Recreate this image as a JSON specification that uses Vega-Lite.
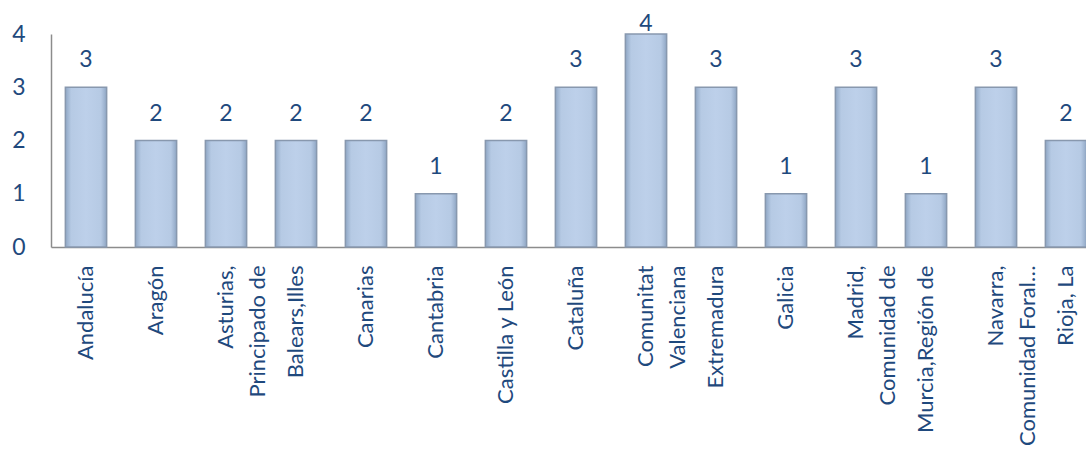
{
  "$schema": "https://vega.github.io/schema/vega-lite/v6.json",
  "autosize": {"type": "none"},
  "padding": {"left": 51, "top": 34, "right": 0, "bottom": 204},
  "width": 1050,
  "height": 213,
  "background": "white",
  "config": {"view": {"stroke": null}, "font": "Lato"},
  "data": {"values": [
    {"region": "Andalucía", "n": 3},
    {"region": "Aragón", "n": 2},
    {"region": "Asturias,|Principado de", "n": 2},
    {"region": "Balears,Illes", "n": 2},
    {"region": "Canarias", "n": 2},
    {"region": "Cantabria", "n": 1},
    {"region": "Castilla y León", "n": 2},
    {"region": "Cataluña", "n": 3},
    {"region": "Comunitat|Valenciana", "n": 4},
    {"region": "Extremadura", "n": 3},
    {"region": "Galicia", "n": 1},
    {"region": "Madrid,|Comunidad de", "n": 3},
    {"region": "Murcia,Región de", "n": 1},
    {"region": "Navarra,|Comunidad Foral…", "n": 3},
    {"region": "Rioja, La", "n": 2}
  ]},
  "encoding": {
    "x": {
      "field": "region", "type": "nominal", "sort": null,
      "scale": {"paddingInner": 0.41, "paddingOuter": 0.205},
      "axis": {
        "title": null, "labelAngle": -90, "labelAlign": "right", "labelBaseline": "middle",
        "labelExpr": "split(datum.label, '|')", "labelLineHeight": 32,
        "labelFontSize": 22, "labelColor": "#1F497D", "labelPadding": 18,
        "ticks": false, "domainColor": "#8C8C8C", "domainWidth": 1.5, "labelLimit": 300
      }
    },
    "y": {
      "field": "n", "type": "quantitative",
      "scale": {"domain": [0, 4]},
      "axis": {
        "title": null, "values": [0, 1, 2, 3, 4], "grid": false, "ticks": false,
        "labelFontSize": 23, "labelColor": "#1F497D", "labelPadding": 26,
        "domainColor": "#8C8C8C", "domainWidth": 1.5
      }
    }
  },
  "layer": [
    {
      "mark": {
        "type": "bar",
        "stroke": "#8898AE", "strokeWidth": 1.5,
        "color": {
          "gradient": "linear", "x1": 0, "y1": 0, "x2": 1, "y2": 0,
          "stops": [
            {"offset": 0, "color": "#8FA6C4"},
            {"offset": 0.14, "color": "#B6CAE4"},
            {"offset": 0.5, "color": "#BDD0EA"},
            {"offset": 0.86, "color": "#B6CAE4"},
            {"offset": 1, "color": "#8FA6C4"}
          ]
        }
      }
    },
    {
      "transform": [{"filter": "datum.n < 4"}],
      "mark": {"type": "text", "dy": -27, "fontSize": 23, "color": "#1F497D", "baseline": "middle"},
      "encoding": {"text": {"field": "n", "type": "quantitative"}}
    },
    {
      "transform": [{"filter": "datum.n >= 4"}],
      "mark": {"type": "text", "dy": -10, "fontSize": 23, "color": "#1F497D", "baseline": "middle"},
      "encoding": {"text": {"field": "n", "type": "quantitative"}}
    }
  ]
}
